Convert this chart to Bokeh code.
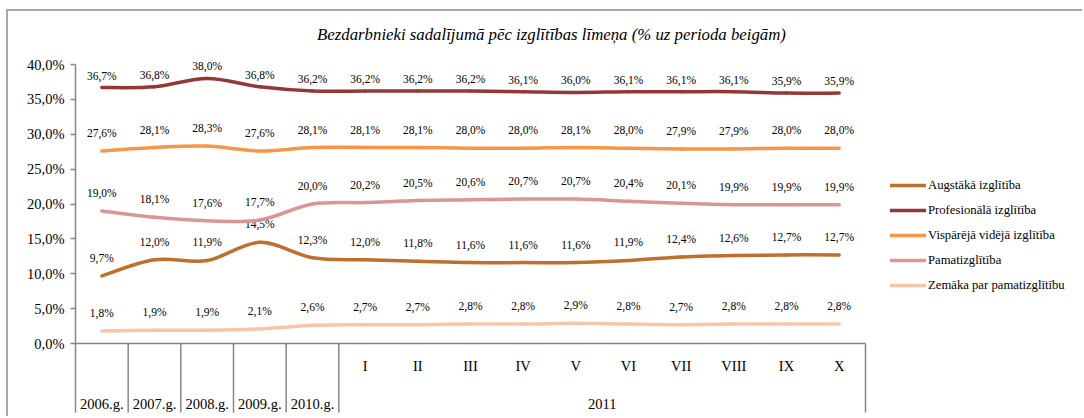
import numpy as np
from bokeh.plotting import figure
from bokeh.models import Range1d, FixedTicker, Legend, LegendItem, ColumnDataSource
from bokeh.core.properties import value
from bokeh.embed import file_html
from bokeh.resources import INLINE

# ---- data ----
categories = ["2006.g.", "2007.g.", "2008.g.", "2009.g.", "2010.g.",
              "I", "II", "III", "IV", "V", "VI", "VII", "VIII", "IX", "X"]
year_groups = ["2006.g.", "2007.g.", "2008.g.", "2009.g.", "2010.g.", "2011"]
group_sizes = [1, 1, 1, 1, 1, 10]
augstaka = [9.7, 12.0, 11.9, 14.5, 12.3, 12.0, 11.8, 11.6, 11.6, 11.6, 11.9, 12.4, 12.6, 12.7, 12.7]
profesionala = [36.7, 36.8, 38.0, 36.8, 36.2, 36.2, 36.2, 36.2, 36.1, 36.0, 36.1, 36.1, 36.1, 35.9, 35.9]
visparejaa = [27.6, 28.1, 28.3, 27.6, 28.1, 28.1, 28.1, 28.0, 28.0, 28.1, 28.0, 27.9, 27.9, 28.0, 28.0]
pamat = [19.0, 18.1, 17.6, 17.7, 20.0, 20.2, 20.5, 20.6, 20.7, 20.7, 20.4, 20.1, 19.9, 19.9, 19.9]
zemaka = [1.8, 1.9, 1.9, 2.1, 2.6, 2.7, 2.7, 2.8, 2.8, 2.9, 2.8, 2.7, 2.8, 2.8, 2.8]
series_names = ["Augstākā izglītība", "Profesionālā izglītība", "Vispārējā vidējā izglītība",
                "Pamatizglītība", "Zemāka par pamatizglītību"]
y_ticks = [0, 5, 10, 15, 20, 25, 30, 35, 40]
y_tick_labels = ["0,0%", "5,0%", "10,0%", "15,0%", "20,0%", "25,0%", "30,0%", "35,0%", "40,0%"]
title_text = "Bezdarbnieki sadalījumā pēc izglītības līmeņa (% uz perioda beigām)"

series = [augstaka, profesionala, visparejaa, pamat, zemaka]
colors = ["#BF6F2E", "#953735", "#F79646", "#D99694", "#F9C5A6"]
label_offsets = [18, 12, 18, 18, 18]

FONT = value("Liberation Serif")
n = len(categories)
xs = np.arange(n) + 0.5

# layout geometry (pixels); content starts at page (8, 11)
W, H = 1076, 407
left_border = 67
plot_w = 790
px_x = plot_w / n
px_y = 279 / 40.0
zero_px_from_top = 332

p = figure(width=W, height=H, output_backend="svg", toolbar_location=None,
           x_axis_location=None, min_border_left=left_border, min_border_right=0,
           min_border_top=0, min_border_bottom=0,
           x_range=Range1d(0, (W - left_border) / px_x),
           y_range=Range1d(-(H - zero_px_from_top) / px_y, zero_px_from_top / px_y))
p.styles = {"border-top": "2px solid #a8a8a8", "border-left": "2px solid #a8a8a8",
            "margin-left": "6px", "margin-top": "9px"}
p.outline_line_color = None
p.xgrid.visible = False
p.ygrid.visible = False
p.background_fill_color = "white"
p.border_fill_color = "white"

bottom_val = -69 / px_y

ax = p.yaxis[0]
ax.ticker = FixedTicker(ticks=y_ticks)
ax.major_label_overrides = {t: l for t, l in zip(y_ticks, y_tick_labels)}
ax.bounds = (bottom_val, 40)
ax.axis_line_color = "#868686"
ax.axis_line_width = 1.5
ax.major_tick_line_color = "#868686"
ax.major_tick_line_width = 1.5
ax.major_tick_out = 5
ax.major_tick_in = 0
ax.minor_tick_line_color = None
ax.major_label_text_font = "Liberation Serif"
ax.major_label_text_font_size = "14.5px"
ax.major_label_text_color = "black"
ax.major_label_standoff = 6

# category axis line and separators
p.segment(x0=[0], y0=[0], x1=[n], y1=[0], line_color="#868686", line_width=1.5)
bounds = np.cumsum(group_sizes)
sep_x = list(bounds[:-1]) + [n]
p.segment(x0=sep_x, y0=[0] * len(sep_x), x1=sep_x, y1=[bottom_val] * len(sep_x),
          line_color="#868686", line_width=1.5)

# month labels (first row) and group labels (second row)
month_idx = [i for i in range(n) if i >= bounds[-2]]
p.text(x=[xs[i] for i in month_idx], y=[-22 / px_y] * len(month_idx),
       text=[categories[i] for i in month_idx], text_font=FONT, text_font_size="14.5px",
       text_align="center", text_baseline="middle", text_color="black")
starts = np.concatenate([[0], bounds[:-1]])
group_centers = [(s + e) / 2 for s, e in zip(starts, bounds)]
p.text(x=group_centers, y=[-60 / px_y] * len(group_centers), text=year_groups,
       text_font=FONT, text_font_size="14.5px", text_align="center",
       text_baseline="middle", text_color="black")

# title
p.text(x=[(551 - 75) / px_x], y=[(343 - 34) / px_y], text=[title_text], text_font=FONT,
       text_font_style="italic", text_font_size="16.8px", text_align="center",
       text_baseline="middle", text_color="black")


def smooth(ys):
    pts = np.column_stack([xs, np.array(ys, dtype=float)])
    d = dict(x0=[], y0=[], x1=[], y1=[], cx0=[], cy0=[], cx1=[], cy1=[])
    for i in range(n - 1):
        p0 = pts[max(i - 1, 0)]
        p1 = pts[i]
        p2 = pts[i + 1]
        p3 = pts[min(i + 2, n - 1)]
        c1 = p1 + (p2 - p0) / 6.0
        c2 = p2 - (p3 - p1) / 6.0
        d["x0"].append(p1[0]); d["y0"].append(p1[1])
        d["x1"].append(p2[0]); d["y1"].append(p2[1])
        d["cx0"].append(c1[0]); d["cy0"].append(c1[1])
        d["cx1"].append(c2[0]); d["cy1"].append(c2[1])
    return ColumnDataSource(d)


items = []
for name, ys, col, off in zip(series_names, series, colors, label_offsets):
    r = p.bezier(x0="x0", y0="y0", x1="x1", y1="y1", cx0="cx0", cy0="cy0",
                 cx1="cx1", cy1="cy1", source=smooth(ys), line_color=col,
                 line_width=3.5, line_cap="round")
    items.append(LegendItem(label=name, renderers=[r]))
    labels = [f"{v:.1f}".replace(".", ",") + "%" for v in ys]
    p.text(x=xs, y=ys, text=labels, text_font=FONT, text_font_size="11.5px",
           text_align="center", text_baseline="middle", text_color="black",
           y_offset=-off)

legend = Legend(items=items, location=(815, 123), orientation="vertical")
legend.label_text_font = "Liberation Serif"
legend.label_text_font_size = "12.7px"
legend.label_text_color = "black"
legend.glyph_width = 36
legend.glyph_height = 20
legend.label_height = 20
legend.spacing = 5
legend.padding = 0
legend.margin = 0
legend.label_standoff = 2
legend.border_line_color = None
legend.background_fill_alpha = 0
p.add_layout(legend, "center")

open("out.html", "w").write(file_html(p, INLINE))
